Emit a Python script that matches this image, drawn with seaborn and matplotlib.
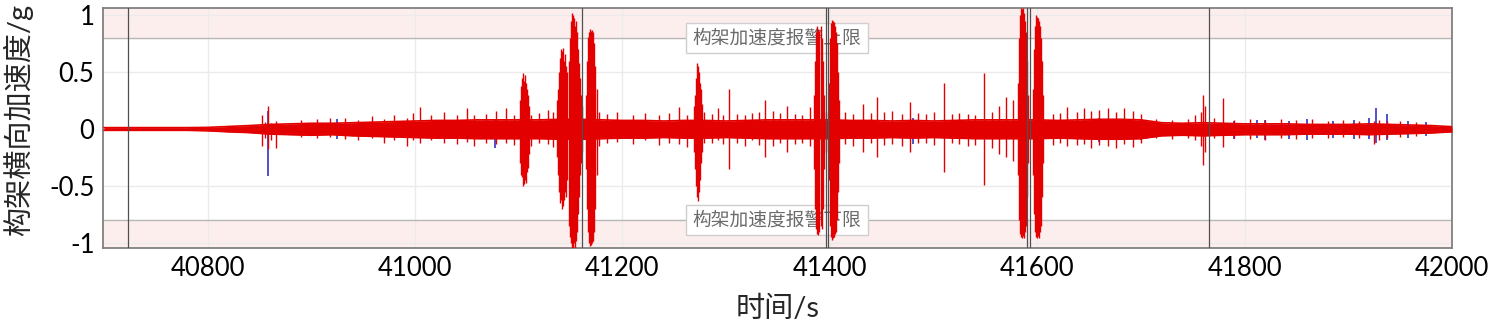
import numpy as np
import pandas as pd
import matplotlib
matplotlib.use('Agg')
import matplotlib.pyplot as plt
import seaborn as sns

# core noise band of the red signal, read every 20 s
base_t = [40700, 40720, 40740, 40760, 40780, 40800, 40820, 40840, 40860, 40880,
          40900, 40920, 40940, 40960, 40980, 41000, 41020, 41040, 41060, 41080,
          41100, 41120, 41140, 41160, 41180, 41200, 41220, 41240, 41260, 41280,
          41300, 41320, 41340, 41360, 41380, 41400, 41420, 41440, 41460, 41480,
          41500, 41520, 41540, 41560, 41580, 41600, 41620, 41640, 41660, 41680,
          41700, 41720, 41740, 41760, 41780, 41800, 41820, 41840, 41860, 41880,
          41900, 41920, 41940, 41960, 41980, 42000]
base_hi = [0.012, 0.012, 0.012, 0.012, 0.012, 0.014, 0.022, 0.03, 0.04, 0.045,
           0.05, 0.05, 0.055, 0.06, 0.065, 0.07, 0.075, 0.075, 0.08, 0.08,
           0.08, 0.08, 0.085, 0.085, 0.08, 0.075, 0.075, 0.07, 0.075, 0.075,
           0.07, 0.075, 0.08, 0.08, 0.08, 0.08, 0.075, 0.075, 0.07, 0.075,
           0.07, 0.075, 0.08, 0.08, 0.08, 0.08, 0.075, 0.08, 0.085, 0.085,
           0.08, 0.055, 0.05, 0.055, 0.05, 0.045, 0.045, 0.045, 0.04, 0.04,
           0.04, 0.045, 0.04, 0.035, 0.03, 0.02]
base_lo = [-0.012, -0.012, -0.012, -0.012, -0.012, -0.016, -0.025, -0.032, -0.045, -0.05,
           -0.055, -0.05, -0.06, -0.065, -0.07, -0.075, -0.08, -0.08, -0.085, -0.085,
           -0.085, -0.085, -0.09, -0.09, -0.085, -0.08, -0.08, -0.075, -0.08, -0.08,
           -0.075, -0.08, -0.085, -0.085, -0.085, -0.085, -0.08, -0.08, -0.075, -0.08,
           -0.075, -0.08, -0.085, -0.085, -0.085, -0.085, -0.08, -0.085, -0.09, -0.09,
           -0.085, -0.06, -0.055, -0.06, -0.055, -0.05, -0.05, -0.05, -0.045, -0.045,
           -0.045, -0.05, -0.045, -0.04, -0.035, -0.025]

# red signal peaks (time, max, min)
red_t = [40852, 40855, 40858, 40861, 40866, 40890, 40905, 40918, 40932, 40945,
         40958, 40970, 40980, 40992, 40998, 41005, 41015, 41028, 41040, 41050,
         41057, 41068, 41078, 41088, 41095,
         41101, 41102, 41103, 41104, 41105, 41106, 41107, 41108, 41109, 41110, 41112,
         41120, 41128, 41133,
         41137, 41138, 41139, 41140, 41141, 41142, 41143, 41144, 41145, 41146,
         41147, 41148, 41149, 41150, 41151, 41152, 41153, 41154, 41155, 41156,
         41157, 41158, 41159, 41160, 41161,
         41165, 41166, 41167, 41168, 41169, 41170, 41171, 41172, 41173, 41174, 41175, 41177,
         41185, 41195, 41210, 41222, 41235, 41245, 41255, 41262,
         41269, 41270, 41271, 41272, 41273, 41274, 41275, 41276, 41277, 41279,
         41286, 41292, 41297, 41303, 41310, 41318, 41325, 41332, 41337, 41345,
         41352, 41359, 41366, 41373, 41381,
         41385, 41386, 41387, 41388, 41389, 41390, 41391, 41392, 41393, 41394, 41396,
         41399, 41400, 41401, 41402, 41403, 41404, 41405, 41406, 41407, 41408, 41409,
         41415, 41422, 41432, 41440, 41445, 41452, 41460, 41470, 41477, 41485,
         41493, 41500, 41510, 41518, 41525, 41533, 41540, 41549, 41556, 41563,
         41570, 41577,
         41581, 41582, 41583, 41584, 41585, 41586, 41587, 41588, 41589, 41590, 41591,
         41596, 41597, 41598, 41599, 41600, 41601, 41602, 41603, 41604, 41605, 41606,
         41615, 41622, 41629, 41638, 41645, 41652, 41660, 41668, 41676, 41684,
         41692, 41700, 41715, 41730, 41745, 41752, 41758, 41760, 41762, 41770,
         41779, 41790, 41805, 41820, 41835, 41850, 41865, 41880, 41895, 41910,
         41925, 41930, 41937, 41950, 41965]
red_hi = [0.12, 0.06, 0.20, 0.05, 0.07, 0.08, 0.09, 0.10, 0.10, 0.08,
          0.11, 0.09, 0.12, 0.10, 0.14, 0.19, 0.12, 0.15, 0.12, 0.18,
          0.12, 0.13, 0.16, 0.18, 0.12,
          0.25, 0.38, 0.45, 0.49, 0.42, 0.47, 0.40, 0.35, 0.30, 0.20, 0.12,
          0.14, 0.17, 0.15,
          0.25, 0.35, 0.50, 0.62, 0.70, 0.68, 0.71, 0.60, 0.66, 0.55,
          0.50, 0.60, 0.80, 0.95, 1.02, 1.00, 0.97, 0.90, 0.95, 0.85,
          0.70, 0.58, 0.45, 0.30, 0.20,
          0.30, 0.60, 0.81, 0.85, 0.88, 0.86, 0.87, 0.85, 0.75, 0.55, 0.35, 0.15,
          0.13, 0.15, 0.12, 0.14, 0.12, 0.14, 0.19, 0.12,
          0.20, 0.30, 0.45, 0.58, 0.55, 0.50, 0.40, 0.35, 0.22, 0.15,
          0.13, 0.18, 0.12, 0.35, 0.13, 0.12, 0.14, 0.15, 0.25, 0.16,
          0.14, 0.20, 0.13, 0.12, 0.19,
          0.30, 0.60, 0.85, 0.90, 0.88, 0.86, 0.90, 0.80, 0.60, 0.30, 0.15,
          0.40, 0.80, 0.93, 0.96, 0.95, 0.94, 0.90, 0.85, 0.75, 0.50, 0.25,
          0.15, 0.13, 0.22, 0.14, 0.28, 0.15, 0.16, 0.13, 0.24, 0.14,
          0.13, 0.15, 0.40, 0.13, 0.14, 0.13, 0.12, 0.49, 0.15, 0.20,
          0.28, 0.25,
          0.40, 0.80, 1.00, 1.06, 1.05, 1.06, 1.02, 0.95, 0.85, 0.60, 0.30,
          0.35, 0.70, 0.90, 1.00, 0.98, 0.97, 0.95, 0.90, 0.80, 0.60, 0.30,
          0.13, 0.14, 0.19, 0.15, 0.18, 0.16, 0.17, 0.18, 0.15, 0.18,
          0.16, 0.13, 0.09, 0.08, 0.09, 0.12, 0.15, 0.30, 0.20, 0.10,
          0.27, 0.08, 0.09, 0.08, 0.09, 0.08, 0.09, 0.07, 0.08, 0.07,
          0.07, 0.08, 0.07, 0.07, 0.06]
red_lo = [-0.15, -0.08, -0.18, -0.10, -0.17, -0.07, -0.08, -0.07, -0.09, -0.10,
          -0.08, -0.12, -0.10, -0.15, -0.10, -0.12, -0.10, -0.12, -0.13, -0.11,
          -0.15, -0.12, -0.13, -0.12, -0.14,
          -0.30, -0.40, -0.42, -0.50, -0.48, -0.45, -0.47, -0.38, -0.34, -0.22, -0.15,
          -0.12, -0.13, -0.16,
          -0.25, -0.40, -0.55, -0.65, -0.62, -0.70, -0.68, -0.62, -0.55, -0.60,
          -0.45, -0.85, -0.95, -1.00, -1.04, -1.04, -1.00, -1.04, -0.98, -0.90,
          -0.75, -0.60, -0.40, -0.30, -0.20,
          -0.35, -0.70, -0.90, -1.00, -1.03, -1.02, -1.00, -0.98, -0.90, -0.70, -0.40, -0.15,
          -0.12, -0.11, -0.13, -0.10, -0.14, -0.12, -0.13, -0.16,
          -0.20, -0.35, -0.50, -0.60, -0.63, -0.55, -0.45, -0.30, -0.20, -0.12,
          -0.12, -0.10, -0.13, -0.35, -0.12, -0.15, -0.10, -0.14, -0.25, -0.15,
          -0.12, -0.20, -0.13, -0.12, -0.15,
          -0.35, -0.70, -0.88, -0.92, -0.93, -0.90, -0.85, -0.88, -0.70, -0.35, -0.20,
          -0.45, -0.85, -0.95, -0.97, -0.96, -0.95, -0.92, -0.90, -0.80, -0.55, -0.30,
          -0.13, -0.15, -0.20, -0.12, -0.25, -0.14, -0.13, -0.15, -0.20, -0.12,
          -0.12, -0.14, -0.38, -0.12, -0.13, -0.15, -0.14, -0.49, -0.17, -0.22,
          -0.25, -0.28,
          -0.40, -0.80, -0.92, -0.95, -0.96, -0.94, -0.96, -0.90, -0.85, -0.60, -0.30,
          -0.40, -0.75, -0.90, -0.95, -0.96, -0.94, -0.96, -0.90, -0.85, -0.60, -0.30,
          -0.14, -0.12, -0.15, -0.14, -0.13, -0.17, -0.14, -0.15, -0.17, -0.13,
          -0.16, -0.12, -0.08, -0.09, -0.08, -0.10, -0.15, -0.32, -0.20, -0.08,
          -0.16, -0.08, -0.09, -0.10, -0.08, -0.09, -0.08, -0.08, -0.07, -0.08,
          -0.13, -0.10, -0.08, -0.07, -0.06]

# blue signal, only visible where it pokes out of the red one
blue_t = [40858, 40925, 41077, 41480, 41660, 41700, 41790, 41812, 41820, 41843,
          41860, 41885, 41905, 41920, 41927, 41937, 41958, 41975]
blue_hi = [0.16, 0.09, 0.08, 0.10, 0.10, 0.09, 0.07, 0.08, 0.08, 0.07,
           0.09, 0.07, 0.08, 0.10, 0.18, 0.13, 0.07, 0.06]
blue_lo = [-0.41, -0.09, -0.17, -0.13, -0.11, -0.10, -0.09, -0.08, -0.10, -0.09,
           -0.10, -0.08, -0.09, -0.09, -0.12, -0.10, -0.08, -0.06]

# dark vertical marker lines
marker_t = [40723, 41161, 41396, 41398, 41590, 41593, 41766]

alarm_limit = 0.8
alarm_labels = ['构架加速度报警上限', '构架加速度报警下限']
xticks = [40800, 41000, 41200, 41400, 41600, 41800, 42000]
yticks = [-1, -0.5, 0, 0.5, 1]
ytick_labels = ['-1', '-0.5', '0', '0.5', '1']

red = '#e30000'
blue = '#2020c0'

sns.set_theme(style='white')
plt.rcParams['font.family'] = ['Lato', 'Noto Sans CJK SC', 'DejaVu Sans']

fig = plt.figure(figsize=(14.94, 3.26), dpi=100)
ax = fig.add_axes([0.0689, 0.239, 0.9030, 0.736])

ax.set_xlim(40699, 42000)
ax.set_ylim(-1.045, 1.06)

# alarm zones
ax.axhspan(alarm_limit, 1.06, color='#fdeeee', zorder=0)
ax.axhspan(-1.045, -alarm_limit, color='#fdeeee', zorder=0)
ax.axhline(alarm_limit, color='#b8b8b8', lw=1, zorder=1)
ax.axhline(-alarm_limit, color='#b8b8b8', lw=1, zorder=1)

ax.set_xticks(xticks)
ax.set_yticks(yticks)
ax.set_yticklabels(ytick_labels)
ax.grid(True, color='#ebebeb', lw=1, zorder=0.5)
ax.set_axisbelow(True)

# blue trace underneath
ax.vlines(blue_t, blue_lo, blue_hi, color=blue, lw=1.1, zorder=3)

# red trace
base = pd.DataFrame({'t': base_t, 'hi': base_hi, 'lo': base_lo})
ax.fill_between(base['t'], base['lo'], base['hi'], color=red, lw=0, zorder=4)
sns.lineplot(data=base, x='t', y='hi', color=red, lw=1.2, ax=ax, zorder=4)
sns.lineplot(data=base, x='t', y='lo', color=red, lw=1.2, ax=ax, zorder=4)
ax.vlines(red_t, red_lo, red_hi, color=red, lw=1.0, zorder=4)

for t in marker_t:
    ax.axvline(t, color='#505050', lw=0.9, zorder=5)

for y, label in zip([alarm_limit, -alarm_limit], alarm_labels):
    ax.text(41349, y, label, ha='center', va='center', fontsize=13.5,
            color='#6a6a6a', zorder=2,
            bbox=dict(boxstyle='square,pad=0.33', fc='white', ec='#cfcfcf', lw=1))

ax.tick_params(axis='both', direction='in', length=4, color='#909090',
               labelsize=18.5, labelcolor='black', pad=6)
for s in ax.spines.values():
    s.set_color('#808080')
    s.set_linewidth(1.3)

ax.set_xlabel('时间/s', fontsize=21)
ax.set_ylabel('构架横向加速度/g', fontsize=21)
ax.xaxis.set_label_coords(0.5, -0.2)
ax.yaxis.set_label_coords(-0.052, 0.533)

fig.savefig('out.png', dpi=100)
